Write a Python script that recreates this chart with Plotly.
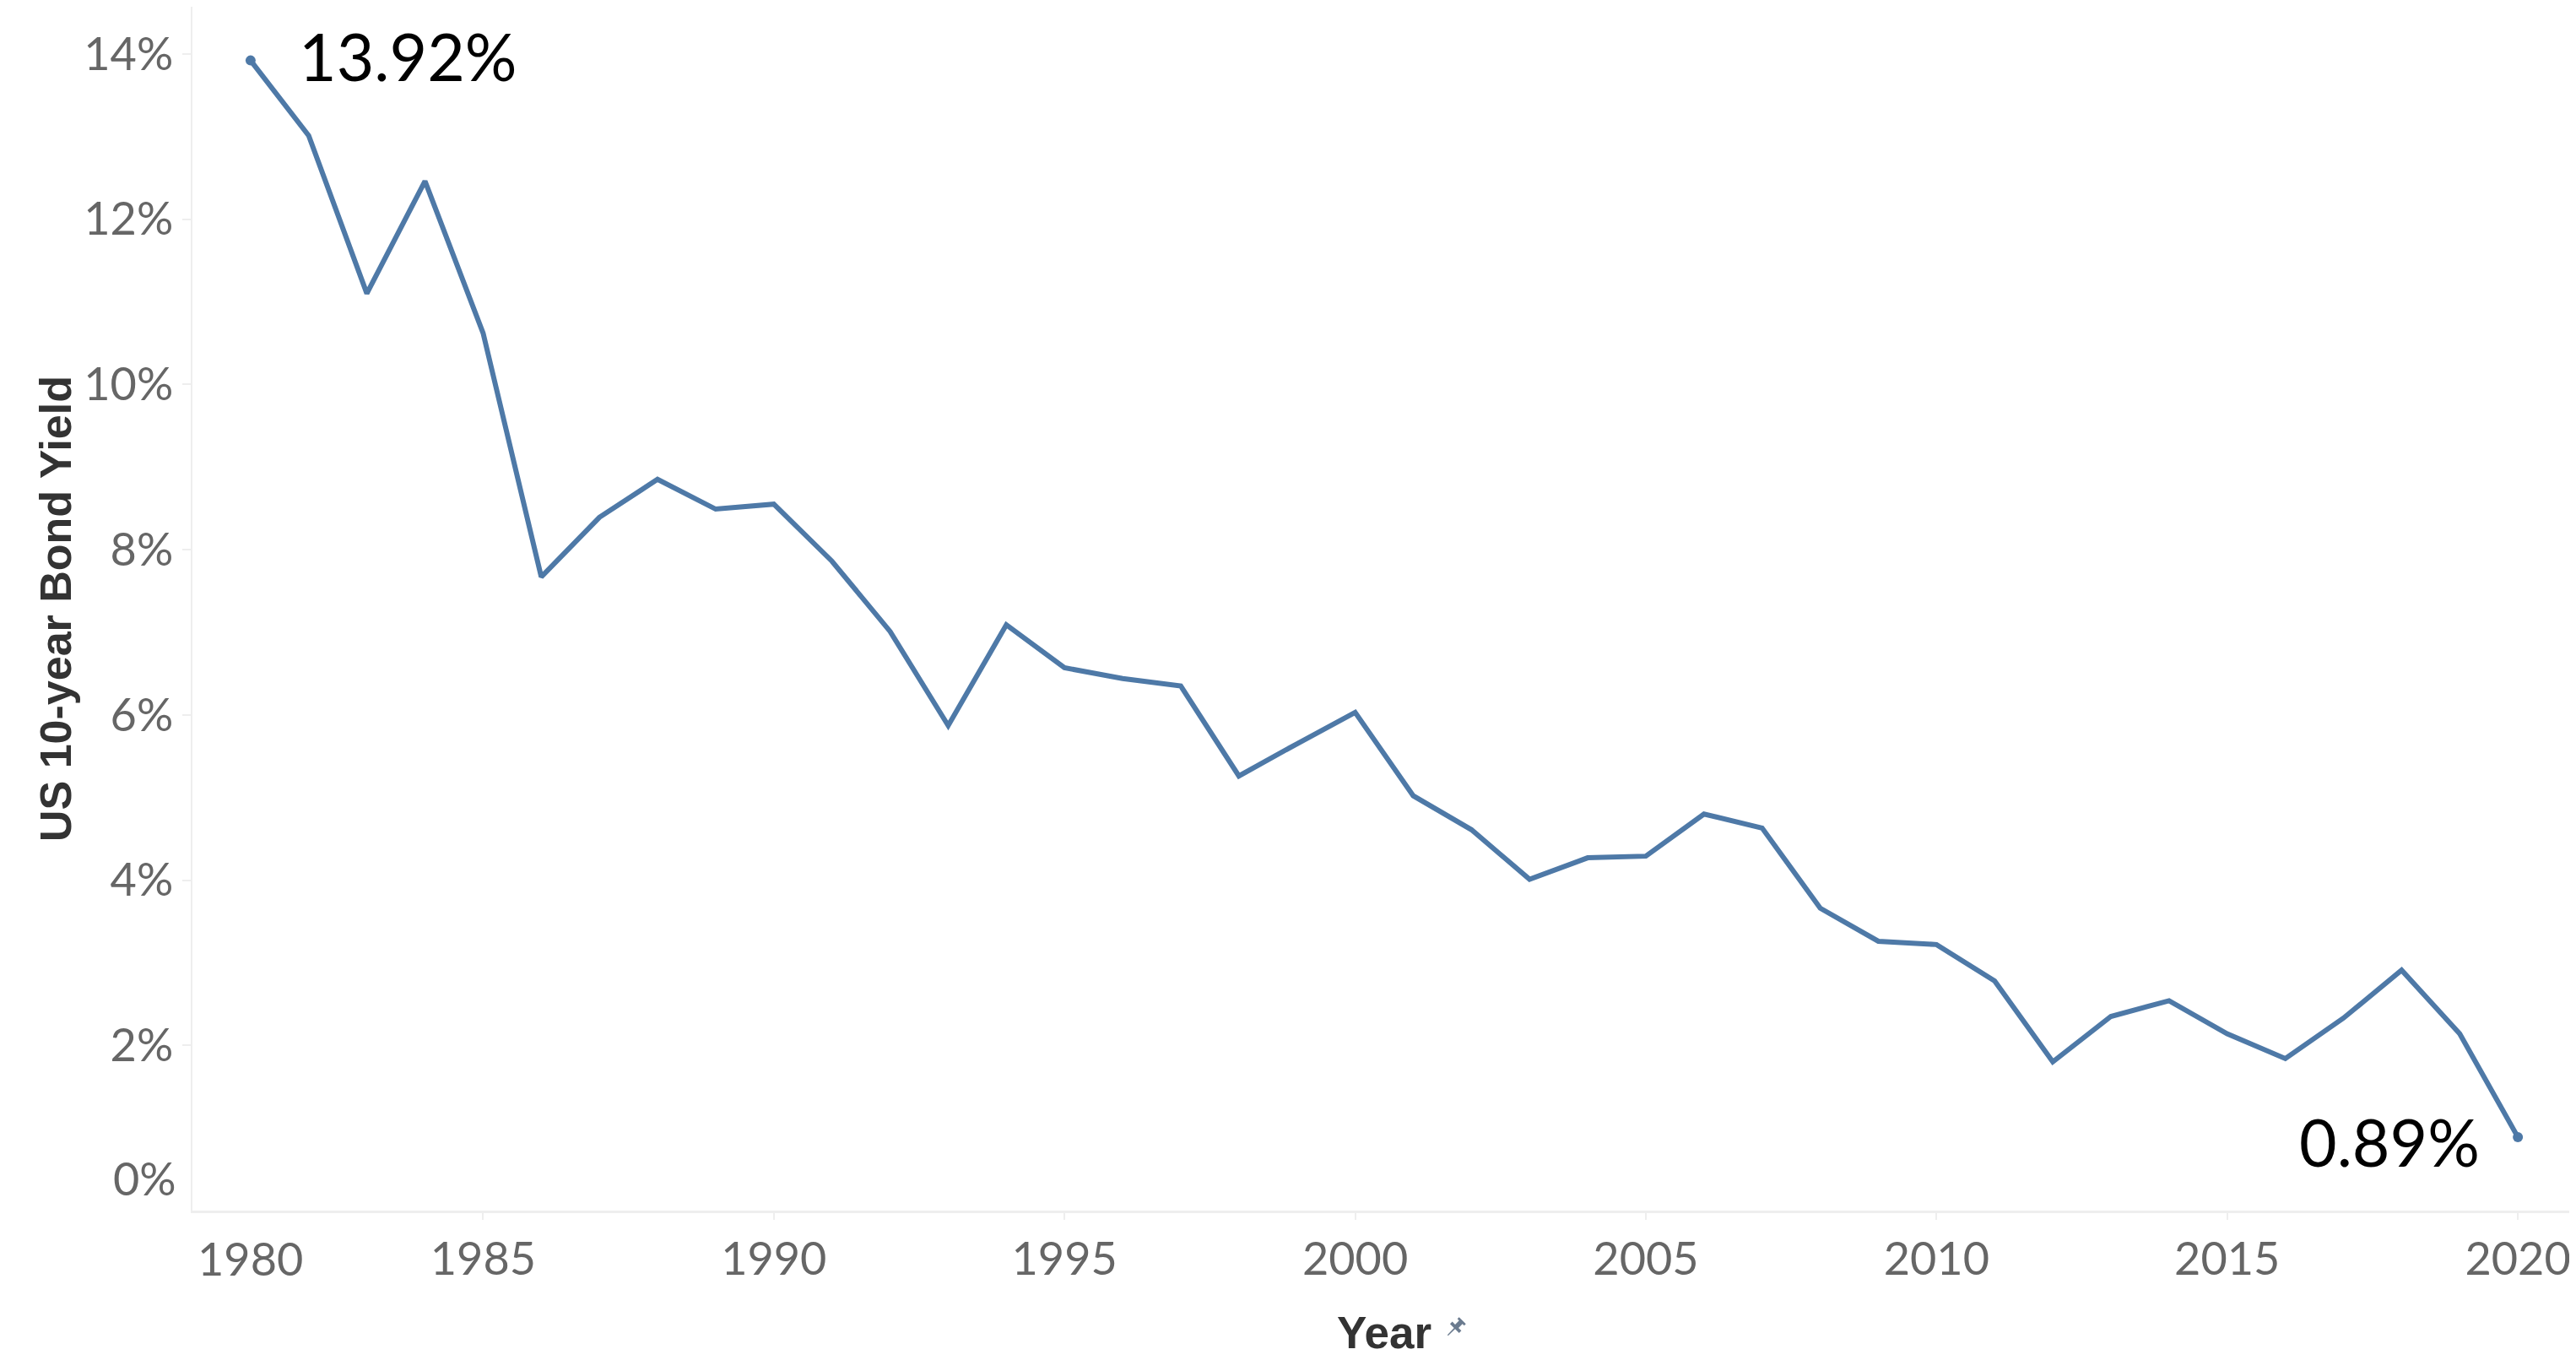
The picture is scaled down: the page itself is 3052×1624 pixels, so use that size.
import math
import plotly.graph_objects as go

# US 10-year treasury yield, annual average (%)
years = list(range(1981, 2021))
yields = [13.92, 13.01, 11.10, 12.46, 10.62, 7.67, 8.39, 8.85, 8.49, 8.55,
          7.86, 7.01, 5.87, 7.09, 6.57, 6.44, 6.35, 5.26, 5.65, 6.03,
          5.02, 4.61, 4.01, 4.27, 4.29, 4.80, 4.63, 3.66, 3.26, 3.22,
          2.78, 1.80, 2.35, 2.54, 2.14, 1.84, 2.33, 2.91, 2.14, 0.89]
y_ticks = [2, 4, 6, 8, 10, 12, 14]
x_ticks = [1985, 1990, 1995, 2000, 2005, 2010, 2015, 2020]

# page body has an 8px margin, so the figure is drawn 8px in from the corner
W, H = 3044, 1616
ML, MB = 220, 190
PW, PH = W - ML, H - MB

LINE = "#4e79a7"
TICK = "#666666"
TITLE = "#333333"
AXIS = "#eeeeee"
FONT = "Lato"
BOLD = "Liberation Sans"

fig = go.Figure()
fig.add_trace(go.Scatter(x=years, y=yields, mode="lines",
                         line=dict(color=LINE, width=6), hoverinfo="skip"))
fig.add_trace(go.Scatter(x=[years[0], years[-1]], y=[yields[0], yields[-1]],
                         mode="markers", marker=dict(color=LINE, size=12),
                         hoverinfo="skip"))

# end labels
fig.add_annotation(x=years[0], y=yields[0], text=f"{yields[0]:.2f}%",
                   xanchor="left", yanchor="middle", xshift=55, yshift=6,
                   showarrow=False, font=dict(family=FONT, size=77, color="black"))
fig.add_annotation(x=years[-1], y=yields[-1], text=f"{yields[-1]:.2f}%",
                   xanchor="right", yanchor="middle", xshift=-43, yshift=-5,
                   showarrow=False, font=dict(family=FONT, size=77, color="black"))

# tableau nudges the edge labels inwards
fig.add_annotation(x=0, xref="paper", y=0, yref="y", text="0%",
                   xanchor="right", yanchor="bottom", xshift=-17, yshift=4,
                   showarrow=False, font=dict(family=FONT, size=54, color=TICK))
fig.add_annotation(x=1980, xref="x", y=0, yref="paper", text="1980",
                   xanchor="left", yanchor="top", xshift=4, yshift=-22,
                   showarrow=False, font=dict(family=FONT, size=54, color=TICK))

# axis titles
fig.add_annotation(x=0, xref="paper", y=0.5, yref="paper", text="<b>US 10-year Bond Yield</b>",
                   textangle=-90, xanchor="center", yanchor="middle", xshift=-162,
                   showarrow=False, font=dict(family=BOLD, size=52, color=TITLE))
fig.add_annotation(x=0.5, xref="paper", y=0, yref="paper", text="<b>Year</b>",
                   xanchor="center", yanchor="middle", yshift=-144,
                   showarrow=False, font=dict(family=BOLD, size=53, color=TITLE))

# little pushpin next to "Year"
def px2paper(px, py):
    return (px - ML) / PW, (PH - py) / PH

cx, cy = 1716, 1565
pin = [(-6, -13), (6, -13), (6, -10), (3, -10), (3, -3), (8, -3), (8, 1),
       (1, 1), (0.6, 13), (-0.6, 13), (-1, 1), (-8, 1), (-8, -3), (-3, -3),
       (-3, -10), (-6, -10)]
a = math.radians(45)
pts = []
for dx, dy in pin:
    rx = dx * math.cos(a) - dy * math.sin(a)
    ry = dx * math.sin(a) + dy * math.cos(a)
    pts.append(px2paper(cx + rx * 0.95, cy + ry * 0.95))
path = "M " + " L ".join(f"{p[0]:.5f},{p[1]:.5f}" for p in pts) + " Z"
fig.add_shape(type="path", path=path, xref="paper", yref="paper",
              fillcolor="#6b7b8f", line=dict(width=0))

fig.update_layout(
    width=W, height=H,
    margin=dict(l=ML, r=0, t=0, b=MB),
    plot_bgcolor="white", paper_bgcolor="white",
    showlegend=False,
    font=dict(family=FONT, color=TICK),
)
fig.update_xaxes(range=[1980, 2021], tickvals=x_ticks, ticktext=[str(v) for v in x_ticks],
                 showgrid=False, zeroline=False, showline=True, linecolor=AXIS, linewidth=3,
                 ticks="outside", ticklen=8, tickcolor=AXIS, tickwidth=2,
                 tickfont=dict(family=FONT, size=54, color=TICK))
fig.update_yaxes(range=[0, 14.57], tickvals=y_ticks, ticktext=[f"{v}%" for v in y_ticks],
                 showgrid=False, zeroline=False, showline=True, linecolor=AXIS, linewidth=2,
                 ticks="outside", ticklen=10, tickcolor=AXIS, tickwidth=2,
                 tickfont=dict(family=FONT, size=54, color=TICK))

fig.write_html("out.html")
